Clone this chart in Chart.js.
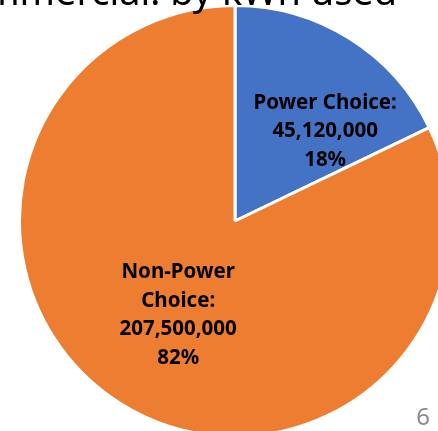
<!DOCTYPE html>
<html>
<head>
<meta charset="utf-8">
<script src="https://cdn.jsdelivr.net/npm/chart.js@4"></script>
<style>
  html, body { margin:0; padding:0; background:#fff; overflow:hidden; width:438px; height:431px; }
  #c { position:absolute; left:0; top:0; }
</style>
</head>
<body>
<canvas id="c" width="470" height="440"></canvas>
<script>
'use strict';

// ── data ──
var categories = ['Power Choice', 'Non-Power Choice'];
var labelLines = [['Power Choice:'], ['Non-Power', 'Choice:']];
var kwhValues = [45120000, 207500000];
var sliceColors = ['#4472C4', '#ED7D31'];

// label placement tweaks (angle shift in degrees, radius fraction)
var labelAngleShift = [13, -1];
var labelRadiusFrac = [0.59, 0.51];

var titleText = 'Commercial: by kWh used';
var pageNumber = '6';

function fmt(n){ return n.toString().replace(/\B(?=(\d{3})+(?!\d))/g, ','); }

var pieLabels = {
  id: 'pieLabels',
  afterDatasetsDraw: function(chart){
    var ctx = chart.ctx;
    var meta = chart.getDatasetMeta(0);
    var total = kwhValues.reduce(function(a,b){ return a+b; }, 0);
    ctx.save();
    ctx.font = "bold 20.5px 'Noto Sans', sans-serif";
    ctx.fillStyle = '#000';
    ctx.textAlign = 'center';
    ctx.textBaseline = 'middle';
    meta.data.forEach(function(arc, i){
      var p = arc.getProps(['x','y','startAngle','endAngle','outerRadius'], true);
      var mid = (p.startAngle + p.endAngle) / 2 + labelAngleShift[i] * Math.PI / 180;
      var r = p.outerRadius * labelRadiusFrac[i];
      var cx = p.x + Math.cos(mid) * r;
      var cy = p.y + Math.sin(mid) * r;
      var lines = labelLines[i].concat([fmt(kwhValues[i]), Math.round(kwhValues[i] / total * 100) + '%']);
      var lh = 28.5;
      var y0 = cy - (lines.length - 1) * lh / 2;
      lines.forEach(function(t, j){ ctx.fillText(t, cx, y0 + j * lh); });
    });
    ctx.restore();
  },
  afterDraw: function(chart){
    var ctx = chart.ctx;
    ctx.save();
    // cut-off slide title: size it so "by kWh used" spans ~227px like the slide
    ctx.font = "34px 'Noto Sans', sans-serif";
    var w = ctx.measureText('by kWh used').width;
    var size = 34 * 227 / w;
    ctx.font = size.toFixed(1) + "px 'Noto Sans', sans-serif";
    ctx.fillStyle = '#000';
    ctx.textAlign = 'right';
    ctx.textBaseline = 'alphabetic';
    ctx.fillText(titleText, 397, 5);
    // slide number
    ctx.font = "24px 'Noto Sans', sans-serif";
    ctx.fillStyle = '#8a8a8a';
    ctx.textAlign = 'right';
    ctx.fillText(pageNumber, 430, 425);
    ctx.restore();
  }
};

new Chart(document.getElementById('c'), {
  type: 'pie',
  data: {
    labels: categories,
    datasets: [{
      data: kwhValues,
      backgroundColor: sliceColors,
      borderColor: '#ffffff',
      borderWidth: 3
    }]
  },
  options: {
    responsive: false,
    animation: false,
    layout: { padding: { left: 18, top: 4, right: 18, bottom: 2 } },
    plugins: {
      legend: { display: false },
      tooltip: { enabled: false },
      title: { display: false }
    }
  },
  plugins: [pieLabels]
});
</script>
</body>
</html>
